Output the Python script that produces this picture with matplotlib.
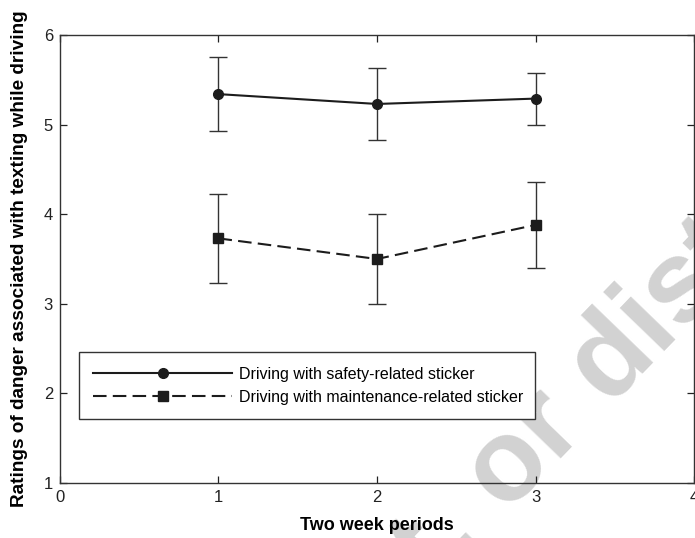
import numpy as np
import matplotlib.pyplot as plt

# ----- Data ----- #
periods = [1, 2, 3]
safety_mean = [5.34, 5.23, 5.29]
safety_err = [0.41, 0.40, 0.29]
maint_mean = [3.73, 3.50, 3.88]
maint_err = [0.50, 0.50, 0.48]

plt.rcParams['font.family'] = ['Liberation Sans', 'DejaVu Sans']
ink = '#1c1c1c'

fig = plt.figure(figsize=(6.95, 5.38), dpi=100)
ax = fig.add_axes([0.0863, 0.1022, 0.9123, 0.8328])
ax.set_facecolor('none')

# watermark, sits under the axes
fig.text(0.418, -0.372, 'post, or distribute', fontsize=84, fontweight='bold',
         color='#d2d2d2', rotation=46, rotation_mode='anchor',
         ha='left', va='baseline', zorder=-5)

s1 = ax.errorbar(periods, safety_mean, yerr=safety_err, color=ink, lw=1.5,
                 marker='o', markersize=7, ecolor='#333333', elinewidth=1.0,
                 capsize=6.5, capthick=1.0)
s2 = ax.errorbar(periods, maint_mean, yerr=maint_err, color=ink, lw=1.5,
                 linestyle=(0, (6.5, 3)), marker='s', markersize=6.5,
                 ecolor='#333333', elinewidth=1.0, capsize=6.5, capthick=1.0)

ax.set_xlim(0, 4)
ax.set_ylim(1, 6)
ax.set_xticks([0, 1, 2, 3, 4])
ax.set_yticks([1, 2, 3, 4, 5, 6])
ax.tick_params(direction='in', length=5, width=0.9, top=True, right=True,
               labelsize=12, colors='#222222', pad=5)
for s in ax.spines.values():
    s.set_linewidth(1.0)
    s.set_color('#333333')

ax.set_xlabel('Two week periods', fontsize=13, fontweight='bold', labelpad=9)
ax.set_ylabel('Ratings of danger associated with texting while driving',
              fontsize=13.7, fontweight='bold', labelpad=11)

leg = ax.legend([s1.lines[0], s2.lines[0]],
                ['Driving with safety-related sticker',
                 'Driving with maintenance-related sticker'],
                loc='lower left', bbox_to_anchor=(0.03, 0.143, 0.719, 0.15),
                mode='expand', borderaxespad=0,
                fontsize=11.5, handlelength=8.7, fancybox=False, framealpha=1,
                edgecolor='#333333', borderpad=0.9, labelspacing=0.5,
                handletextpad=0.4)
leg.get_frame().set_linewidth(1.0)

fig.savefig('out.png', dpi=100)
